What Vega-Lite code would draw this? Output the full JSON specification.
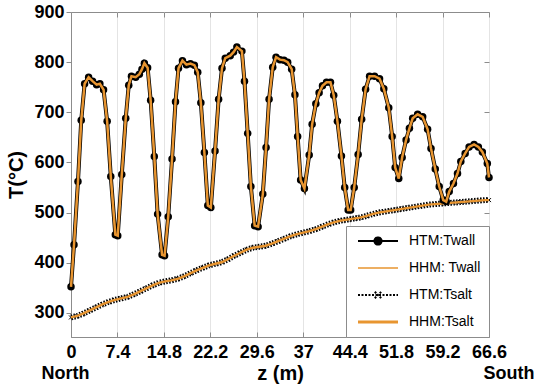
{
  "$schema": "https://vega.github.io/schema/vega-lite/v6.json",
  "width": 418,
  "height": 325,
  "autosize": {"type": "none"},
  "padding": {"left": 71, "top": 12, "right": 45, "bottom": 50},
  "background": "white",
  "config": {
    "font": "Liberation Sans",
    "view": {"stroke": "#8c8c8c", "strokeWidth": 1},
    "axis": {
      "labelFont": "Liberation Sans",
      "labelFontWeight": "bold",
      "labelFontSize": 18,
      "labelColor": "black",
      "titleFont": "Liberation Sans",
      "titleFontWeight": "bold",
      "titleFontSize": 20,
      "titleColor": "black",
      "domainColor": "#8c8c8c",
      "tickColor": "#8c8c8c",
      "gridColor": "#e4e4e4",
      "gridWidth": 1
    }
  },
  "datasets": {
    "wall": [
      {"z": 0, "T": 352}, {"z": 0.48, "T": 436}, {"z": 1.11, "T": 562}, {"z": 1.63, "T": 684},
      {"z": 2.17, "T": 757}, {"z": 2.81, "T": 770}, {"z": 3.44, "T": 762}, {"z": 4.08, "T": 755},
      {"z": 4.6, "T": 757}, {"z": 5.19, "T": 745}, {"z": 5.76, "T": 682}, {"z": 6.34, "T": 572},
      {"z": 7.06, "T": 456}, {"z": 7.45, "T": 454}, {"z": 8.09, "T": 576}, {"z": 8.72, "T": 688},
      {"z": 9.2, "T": 754}, {"z": 9.63, "T": 772}, {"z": 10.31, "T": 770}, {"z": 10.89, "T": 776},
      {"z": 11.31, "T": 786}, {"z": 11.69, "T": 798}, {"z": 12.21, "T": 789}, {"z": 12.69, "T": 724},
      {"z": 13.27, "T": 612}, {"z": 13.8, "T": 497}, {"z": 14.51, "T": 416}, {"z": 14.91, "T": 414},
      {"z": 15.49, "T": 492}, {"z": 16.1, "T": 607}, {"z": 16.65, "T": 721}, {"z": 17.13, "T": 788},
      {"z": 17.76, "T": 803}, {"z": 18.39, "T": 795}, {"z": 19.03, "T": 797}, {"z": 19.66, "T": 794},
      {"z": 20.19, "T": 780}, {"z": 20.69, "T": 719}, {"z": 21.25, "T": 620}, {"z": 21.8, "T": 514},
      {"z": 22.28, "T": 510}, {"z": 22.95, "T": 623}, {"z": 23.52, "T": 726}, {"z": 24.06, "T": 788},
      {"z": 24.58, "T": 808}, {"z": 25.37, "T": 813}, {"z": 25.9, "T": 820}, {"z": 26.43, "T": 830},
      {"z": 27.23, "T": 822}, {"z": 27.64, "T": 762}, {"z": 28.15, "T": 658}, {"z": 28.66, "T": 552},
      {"z": 29.26, "T": 474}, {"z": 29.81, "T": 472}, {"z": 30.56, "T": 537}, {"z": 31.08, "T": 630},
      {"z": 31.56, "T": 726}, {"z": 32.14, "T": 790}, {"z": 32.67, "T": 810}, {"z": 33.3, "T": 805},
      {"z": 33.94, "T": 804}, {"z": 34.52, "T": 800}, {"z": 35.16, "T": 786}, {"z": 35.68, "T": 735},
      {"z": 36.11, "T": 652}, {"z": 36.59, "T": 565}, {"z": 37.19, "T": 548}, {"z": 37.95, "T": 615},
      {"z": 38.42, "T": 676}, {"z": 39.01, "T": 717}, {"z": 39.53, "T": 739}, {"z": 40.07, "T": 753},
      {"z": 40.71, "T": 760}, {"z": 41.34, "T": 760}, {"z": 41.86, "T": 734}, {"z": 42.45, "T": 682},
      {"z": 43.09, "T": 613}, {"z": 43.61, "T": 550}, {"z": 44.16, "T": 505}, {"z": 44.56, "T": 505},
      {"z": 45.12, "T": 550}, {"z": 45.75, "T": 616}, {"z": 46.31, "T": 686}, {"z": 46.94, "T": 746},
      {"z": 47.57, "T": 772}, {"z": 48.37, "T": 772}, {"z": 49.16, "T": 767}, {"z": 49.84, "T": 747},
      {"z": 50.63, "T": 709}, {"z": 51.17, "T": 652}, {"z": 51.65, "T": 590}, {"z": 52.22, "T": 568},
      {"z": 52.76, "T": 610}, {"z": 53.39, "T": 645}, {"z": 53.92, "T": 668}, {"z": 54.44, "T": 688},
      {"z": 55.23, "T": 696}, {"z": 56.03, "T": 691}, {"z": 56.82, "T": 666}, {"z": 57.36, "T": 628},
      {"z": 58.04, "T": 587}, {"z": 58.67, "T": 552}, {"z": 59.31, "T": 525}, {"z": 59.78, "T": 522},
      {"z": 60.26, "T": 542}, {"z": 60.94, "T": 558}, {"z": 61.58, "T": 578}, {"z": 62.11, "T": 602},
      {"z": 62.8, "T": 618}, {"z": 63.43, "T": 631}, {"z": 64.22, "T": 636}, {"z": 64.91, "T": 631},
      {"z": 65.54, "T": 621}, {"z": 66.33, "T": 598}, {"z": 66.6, "T": 570}
    ],
    "salt": [
      {"z": 0, "T": 291}, {"z": 1, "T": 294}, {"z": 2, "T": 299}, {"z": 3, "T": 305},
      {"z": 4, "T": 311}, {"z": 5, "T": 317}, {"z": 6, "T": 322}, {"z": 7, "T": 326},
      {"z": 8, "T": 329}, {"z": 9, "T": 332}, {"z": 10, "T": 337}, {"z": 11, "T": 343},
      {"z": 12, "T": 349}, {"z": 13, "T": 355}, {"z": 14, "T": 360}, {"z": 15, "T": 363},
      {"z": 16, "T": 365}, {"z": 17, "T": 368}, {"z": 18, "T": 373}, {"z": 19, "T": 379},
      {"z": 20, "T": 385}, {"z": 21, "T": 390}, {"z": 22, "T": 395}, {"z": 23, "T": 398},
      {"z": 24, "T": 401}, {"z": 25, "T": 407}, {"z": 26, "T": 414}, {"z": 27, "T": 420},
      {"z": 28, "T": 426}, {"z": 29, "T": 430}, {"z": 30, "T": 432}, {"z": 31, "T": 434},
      {"z": 32, "T": 438}, {"z": 33, "T": 443}, {"z": 34, "T": 448}, {"z": 35, "T": 453},
      {"z": 36, "T": 457}, {"z": 37, "T": 460}, {"z": 38, "T": 463}, {"z": 39, "T": 467},
      {"z": 40, "T": 472}, {"z": 41, "T": 477}, {"z": 42, "T": 481}, {"z": 43, "T": 484},
      {"z": 44, "T": 486}, {"z": 45, "T": 488}, {"z": 46, "T": 490}, {"z": 47, "T": 493},
      {"z": 48, "T": 497}, {"z": 49, "T": 500}, {"z": 50, "T": 502}, {"z": 51, "T": 504},
      {"z": 52, "T": 506}, {"z": 53, "T": 508}, {"z": 54, "T": 510}, {"z": 55, "T": 512},
      {"z": 56, "T": 514}, {"z": 57, "T": 516}, {"z": 58, "T": 517}, {"z": 59, "T": 518},
      {"z": 60, "T": 519}, {"z": 61, "T": 520}, {"z": 62, "T": 521}, {"z": 63, "T": 522},
      {"z": 64, "T": 523}, {"z": 65, "T": 524}, {"z": 66, "T": 525}, {"z": 66.6, "T": 525}
    ]
  },
  "layer": [
    {
      "encoding": {
        "x": {
          "field": "z", "type": "quantitative",
          "scale": {"domain": [0, 66.6], "nice": false, "zero": false},
          "axis": {
            "orient": "bottom",
            "values": [0, 7.4, 14.8, 22.2, 29.6, 37, 44.4, 51.8, 59.2, 66.6],
            "format": ".1~f",
            "labelOverlap": false,
            "labelBound": false,
            "labelFlush": false,
            "tickSize": -5,
            "labelPadding": 11,
            "grid": true,
            "title": "z (m)",
            "titlePadding": 2
          }
        },
        "y": {
          "field": "T", "type": "quantitative",
          "scale": {"domain": [252, 900], "nice": false, "zero": false},
          "axis": {
            "orient": "left",
            "values": [300, 400, 500, 600, 700, 800, 900],
            "format": "d",
            "tickSize": 5,
            "labelPadding": 2,
            "grid": false,
            "title": "T(°C)",
            "titlePadding": 7
          }
        }
      },
      "layer": [
        {
          "data": {"name": "salt"},
          "mark": {"type": "line", "strokeWidth": 6, "strokeDash": [1.5, 1.5], "strokeCap": "butt"},
          "encoding": {
            "color": {
              "datum": "HTM:Tsalt", "type": "nominal",
              "scale": {"domain": ["HTM:Twall", "HHM: Twall", "HTM:Tsalt", "HHM:Tsalt"], "range": ["black", "#E89530", "black", "#E89530"]},
              "legend": {
                "title": null,
                "orient": "bottom-right",
                "offset": 0,
                "strokeColor": "#8c8c8c",
                "fillColor": "white",
                "padding": 8,
                "symbolSize": 1600,
                "symbolOffset": 17,
                "clipHeight": 14,
                "rowPadding": 13,
                "labelOffset": 24,
                "labelFont": "Liberation Sans",
                "labelFontSize": 14,
                "labelColor": "black",
                "labelLimit": 200,
                "encode": {
                  "symbols": {
                    "update": {
                      "shape": {"signal": "datum.value === 'HTM:Twall' ? 'M-1,0H1M0.18,0A0.18,0.18,0,1,1,-0.18,0A0.18,0.18,0,1,1,0.18,0Z' : datum.value === 'HTM:Tsalt' ? 'M-1,0H1M-0.16,-0.16L0.16,0.16M-0.16,0.16L0.16,-0.16' : 'M-1,0H1'"},
                      "fill": {"signal": "datum.value === 'HTM:Twall' ? 'black' : 'transparent'"},
                      "strokeWidth": {"signal": "datum.value === 'HHM:Tsalt' ? 3 : datum.value === 'HHM: Twall' ? 1.5 : 2"},
                      "strokeDash": {"signal": "datum.value === 'HTM:Tsalt' ? [2, 1.5] : [1, 0]"},
                      "opacity": {"value": 1}
                    }
                  }
                }
              }
            }
          }
        },
        {
          "data": {"name": "salt"},
          "mark": {"type": "point", "shape": "M-1,-1L1,1M-1,1L1,-1", "filled": false, "color": "black", "strokeWidth": 1, "size": 16, "opacity": 1}
        },
        {
          "data": {"name": "salt"},
          "mark": {"type": "line", "strokeWidth": 2.4},
          "encoding": {
            "color": {"datum": "HHM:Tsalt", "type": "nominal", "scale": {"domain": ["HTM:Twall", "HHM: Twall", "HTM:Tsalt", "HHM:Tsalt"], "range": ["black", "#E89530", "black", "#E89530"]}}
          }
        },
        {
          "data": {"name": "wall"},
          "mark": {"type": "line", "strokeWidth": 4},
          "encoding": {
            "color": {"datum": "HTM:Twall", "type": "nominal", "scale": {"domain": ["HTM:Twall", "HHM: Twall", "HTM:Tsalt", "HHM:Tsalt"], "range": ["black", "#E89530", "black", "#E89530"]}}
          }
        },
        {
          "data": {"name": "wall"},
          "mark": {"type": "point", "shape": "circle", "filled": true, "color": "black", "size": 56, "opacity": 1}
        },
        {
          "data": {"name": "wall"},
          "mark": {"type": "line", "strokeWidth": 2.5},
          "encoding": {
            "color": {"datum": "HHM: Twall", "type": "nominal", "scale": {"domain": ["HTM:Twall", "HHM: Twall", "HTM:Tsalt", "HHM:Tsalt"], "range": ["black", "#E89530", "black", "#E89530"]}}
          }
        }
      ]
    },
    {
      "data": {"name": "salt"},
      "mark": {"type": "point", "opacity": 0},
      "encoding": {
        "x": {
          "field": "z", "type": "quantitative",
          "scale": {"domain": [0, 66.6], "nice": false, "zero": false},
          "axis": {"orient": "top", "values": [0, 7.4, 14.8, 22.2, 29.6, 37, 44.4, 51.8, 59.2, 66.6], "labels": false, "tickSize": -5, "domain": false, "grid": false, "title": null}
        },
        "y": {
          "field": "T", "type": "quantitative",
          "scale": {"domain": [252, 900], "nice": false, "zero": false},
          "axis": {"orient": "right", "values": [300, 400, 500, 600, 700, 800, 900], "labels": false, "tickSize": -5, "domain": false, "grid": false, "title": null}
        }
      }
    },
    {
      "data": {"name": "salt"},
      "mark": {"type": "point", "opacity": 0},
      "encoding": {
        "x": {
          "field": "z", "type": "quantitative",
          "scale": {"domain": [0, 66.6], "nice": false, "zero": false},
          "axis": {
            "orient": "bottom",
            "values": [0, 66.6],
            "labelExpr": "datum.value === 0 ? 'North' : 'South'",
            "labelAlign": {"condition": {"test": "datum.value === 66.6", "value": "left"}, "value": "center"},
            "labelOffset": -6,
            "labelPadding": 27,
            "labelOverlap": false,
            "labelBound": false,
            "labelFlush": false,
            "ticks": false,
            "domain": false,
            "grid": false,
            "title": null
          }
        },
        "y": {
          "field": "T", "type": "quantitative",
          "scale": {"domain": [252, 900], "nice": false, "zero": false},
          "axis": null
        }
      }
    }
  ],
  "resolve": {"axis": {"x": "independent", "y": "independent"}}
}
